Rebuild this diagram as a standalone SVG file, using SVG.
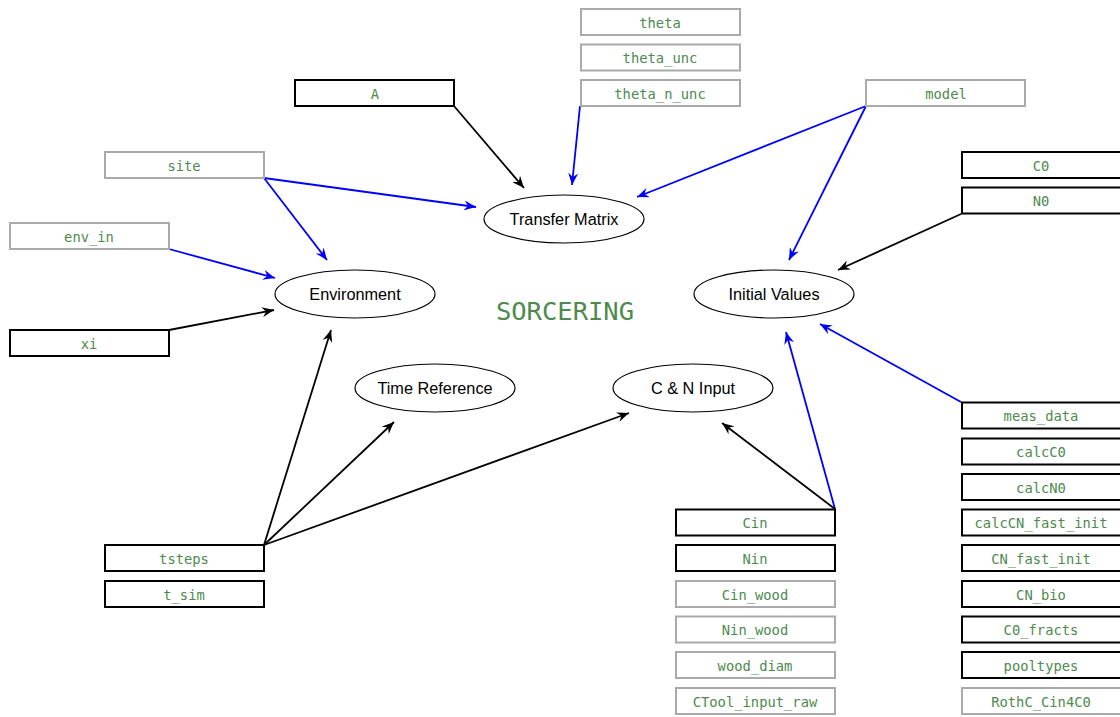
<svg xmlns="http://www.w3.org/2000/svg" width="1120" height="717" viewBox="0 0 1120 717">
<defs>
<marker id="ab" viewBox="0 0 12 10" refX="12" refY="5" markerWidth="12" markerHeight="10" markerUnits="userSpaceOnUse" orient="auto"><path d="M0,0 L12,5 L0,10 L4,5 z" fill="#000"/></marker>
<marker id="au" viewBox="0 0 12 10" refX="12" refY="5" markerWidth="12" markerHeight="10" markerUnits="userSpaceOnUse" orient="auto"><path d="M0,0 L12,5 L0,10 L4,5 z" fill="#0000ff"/></marker>
<style>
.bx rect{fill:#fff;stroke-width:2}
.k rect{stroke:#000}
.g rect{stroke:#aaa}
.bx text{font-family:"DejaVu Sans Mono",monospace;font-size:13.8px;fill:#4e8a4e;text-anchor:middle}
.el ellipse{fill:#fff;stroke:#000;stroke-width:1.2}
.el text{font-family:"Liberation Sans",Arial,sans-serif;font-size:16.3px;fill:#000;text-anchor:middle}
.cb{stroke:#000;stroke-width:1.8;fill:none;marker-end:url(#ab)}
.cu{stroke:#0000ff;stroke-width:1.8;fill:none;marker-end:url(#au)}
</style>
</defs>
<rect width="1120" height="717" fill="#fff"/>
<text x="565" y="320" font-family="DejaVu Sans Mono,monospace" font-size="25.5" fill="#4e8a4e" text-anchor="middle">SORCERING</text>
<g id="connectors">
<line class="cb" x1="454" y1="106" x2="524" y2="188"/>
<line class="cu" x1="580" y1="106" x2="572" y2="185"/>
<line class="cu" x1="866" y1="106" x2="637" y2="197"/>
<line class="cu" x1="866" y1="106" x2="789" y2="260"/>
<line class="cu" x1="264" y1="178" x2="476" y2="207"/>
<line class="cu" x1="264" y1="178" x2="327" y2="260"/>
<line class="cu" x1="169" y1="249" x2="275" y2="278"/>
<line class="cb" x1="169" y1="330" x2="274" y2="310"/>
<line class="cb" x1="961" y1="214" x2="838" y2="270"/>
<line class="cu" x1="961" y1="402" x2="820" y2="324"/>
<line class="cu" x1="835" y1="509" x2="786" y2="332"/>
<line class="cb" x1="835" y1="509" x2="722" y2="423"/>
<line class="cb" x1="264" y1="545" x2="331" y2="330"/>
<line class="cb" x1="264" y1="545" x2="394" y2="422"/>
<line class="cb" x1="264" y1="545" x2="629" y2="413"/>
</g>
<g id="n-transfer" class="el"><ellipse cx="564" cy="219" rx="80" ry="24"/><text x="564" y="225">Transfer Matrix</text></g>
<g id="n-environment" class="el"><ellipse cx="355" cy="294" rx="80" ry="24"/><text x="355" y="300">Environment</text></g>
<g id="n-initial" class="el"><ellipse cx="774" cy="294" rx="80" ry="24"/><text x="774" y="300">Initial Values</text></g>
<g id="n-time" class="el"><ellipse cx="435" cy="388" rx="80" ry="24"/><text x="435" y="394">Time Reference</text></g>
<g id="n-cninput" class="el"><ellipse cx="693" cy="388" rx="80" ry="24"/><text x="693" y="394">C &amp; N Input</text></g>
<g id="b-theta" class="bx g"><rect x="581" y="9" width="159" height="26"/><text x="660" y="27.5">theta</text></g>
<g id="b-theta_unc" class="bx g"><rect x="581" y="44.5" width="159" height="26"/><text x="660" y="63">theta_unc</text></g>
<g id="b-theta_n_unc" class="bx g"><rect x="581" y="80" width="159" height="26"/><text x="660" y="98.5">theta_n_unc</text></g>
<g id="b-A" class="bx k"><rect x="295" y="80" width="159" height="26"/><text x="375" y="98.5">A</text></g>
<g id="b-model" class="bx g"><rect x="866" y="80" width="159" height="26"/><text x="946" y="98.5">model</text></g>
<g id="b-site" class="bx g"><rect x="105" y="152" width="159" height="26"/><text x="184" y="170.5">site</text></g>
<g id="b-env_in" class="bx g"><rect x="10" y="223" width="159" height="26"/><text x="89" y="241.5">env_in</text></g>
<g id="b-xi" class="bx k"><rect x="10" y="330" width="159" height="26"/><text x="89" y="348.5">xi</text></g>
<g id="b-C0" class="bx k"><rect x="962" y="152" width="159" height="26"/><text x="1041" y="170.5">C0</text></g>
<g id="b-N0" class="bx k"><rect x="962" y="187.5" width="159" height="26"/><text x="1041" y="206">N0</text></g>
<g id="b-meas_data" class="bx k"><rect x="962" y="402.5" width="159" height="26"/><text x="1041" y="421">meas_data</text></g>
<g id="b-calcC0" class="bx k"><rect x="962" y="438.5" width="159" height="26"/><text x="1041" y="457">calcC0</text></g>
<g id="b-calcN0" class="bx k"><rect x="962" y="474" width="159" height="26"/><text x="1041" y="492.5">calcN0</text></g>
<g id="b-calcCN_fast_init" class="bx k"><rect x="962" y="509.5" width="159" height="26"/><text x="1041" y="528">calcCN_fast_init</text></g>
<g id="b-CN_fast_init" class="bx k"><rect x="962" y="545" width="159" height="26"/><text x="1041" y="563.5">CN_fast_init</text></g>
<g id="b-CN_bio" class="bx k"><rect x="962" y="581" width="159" height="26"/><text x="1041" y="599.5">CN_bio</text></g>
<g id="b-C0_fracts" class="bx k"><rect x="962" y="616.5" width="159" height="26"/><text x="1041" y="635">C0_fracts</text></g>
<g id="b-pooltypes" class="bx k"><rect x="962" y="652" width="159" height="26"/><text x="1041" y="670.5">pooltypes</text></g>
<g id="b-RothC_Cin4C0" class="bx g"><rect x="962" y="688" width="159" height="26"/><text x="1041" y="706.5">RothC_Cin4C0</text></g>
<g id="b-tsteps" class="bx k"><rect x="105" y="545" width="159" height="26"/><text x="184" y="563.5">tsteps</text></g>
<g id="b-t_sim" class="bx k"><rect x="105" y="581" width="159" height="26"/><text x="184" y="599.5">t_sim</text></g>
<g id="b-Cin" class="bx k"><rect x="676" y="509.5" width="159" height="26"/><text x="755" y="528">Cin</text></g>
<g id="b-Nin" class="bx k"><rect x="676" y="545" width="159" height="26"/><text x="755" y="563.5">Nin</text></g>
<g id="b-Cin_wood" class="bx g"><rect x="676" y="581" width="159" height="26"/><text x="755" y="599.5">Cin_wood</text></g>
<g id="b-Nin_wood" class="bx g"><rect x="676" y="616.5" width="159" height="26"/><text x="755" y="635">Nin_wood</text></g>
<g id="b-wood_diam" class="bx g"><rect x="676" y="652" width="159" height="26"/><text x="755" y="670.5">wood_diam</text></g>
<g id="b-CTool_input_raw" class="bx g"><rect x="676" y="688" width="159" height="26"/><text x="755" y="706.5">CTool_input_raw</text></g>
</svg>
